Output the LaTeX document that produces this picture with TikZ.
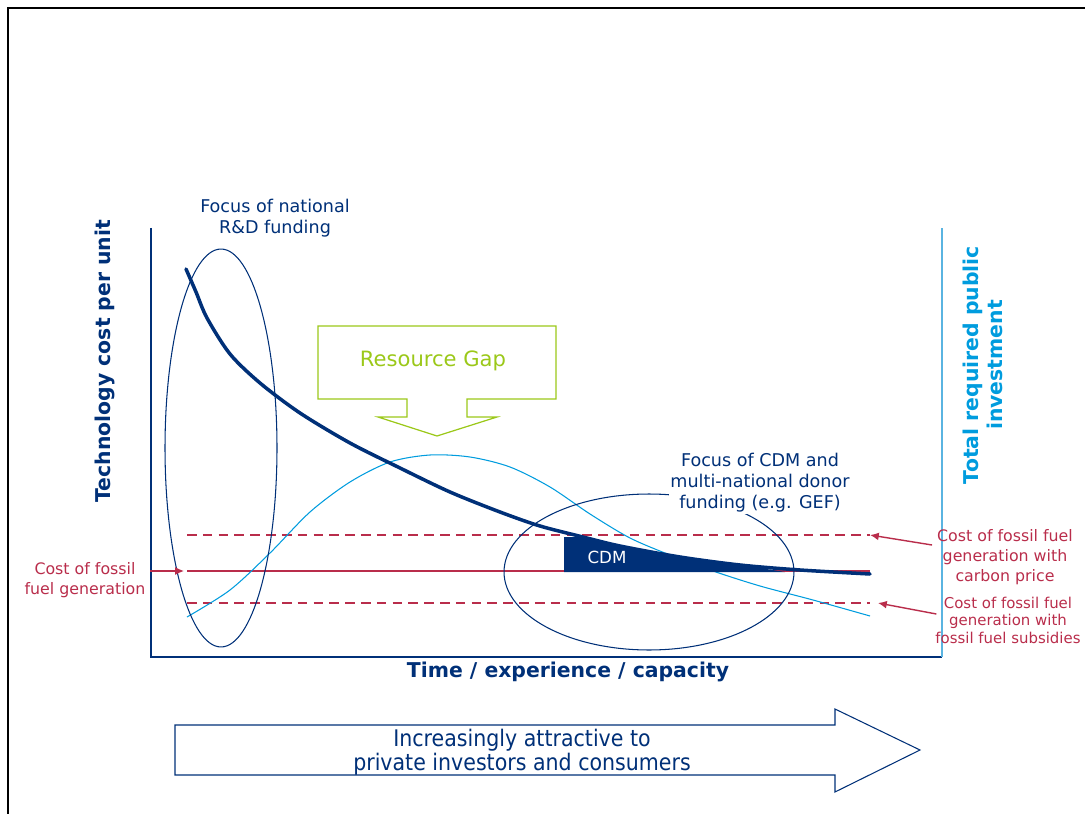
\documentclass[tikz,border=0pt]{standalone}
\usepackage{fontspec}
\setmainfont{DejaVu Sans}
\newfontfamily\narrowfont[FakeStretch=0.9]{DejaVu Sans}
\usepackage{tikz}
\usetikzlibrary{arrows.meta, positioning, calc}
\definecolor{navy}{RGB}{0,48,120}
\definecolor{skyblue}{RGB}{0,156,222}
\definecolor{axisblue}{RGB}{90,180,225}
\definecolor{crimson}{RGB}{185,45,75}
\definecolor{lime}{RGB}{155,200,25}
\tikzset{%
	axisline/.style={navy, line width=0.7pt},
	raxis/.style={axisblue, line width=0.9pt},
	axislbl/.style={text=navy, font=\bfseries\fontsize{11.6}{14}\selectfont, align=center, inner sep=1pt},
	lbl/.style={text=navy, font=\fontsize{10}{11.9}\selectfont, align=center, inner sep=1pt},
	redlbl/.style={text=crimson, font=\fontsize{9}{11.3}\selectfont, align=center, inner sep=1pt},
	fossil/.style={crimson, line width=0.6pt},
	fossildash/.style={crimson, line width=1.1pt, dash pattern=on 5.5pt off 3.5pt},
	redarrow/.style={crimson, line width=0.8pt, -{Latex[length=5pt, width=4.5pt]}},
	costcurve/.style={navy, line width=2pt, line cap=round},
	invcurve/.style={skyblue, line width=0.6pt},
	focus/.style={navy, line width=0.6pt},
	gapshape/.style={lime, line width=0.7pt},
	gaplbl/.style={text=lime, font=\fontsize{12}{14}\selectfont},
	cdmlbl/.style={text=white, font=\fontsize{9.5}{11}\selectfont},
	bigarrow/.style={draw=navy, line width=0.6pt, fill=white},
	arrowlbl/.style={text=navy, font=\narrowfont\fontsize{13}{13.6}\selectfont, align=center}
}
\begin{document}
\begin{tikzpicture}[x=0.02cm, y=-0.02cm]
	\useasboundingbox (0,0) rectangle (1085,814);
	\draw[line width=1.3pt] (8,814) -- (8,8) -- (1085,8);

	% axes
	\coordinate (o) at (151,657);
	\coordinate (ytop) at (151,228);
	\coordinate (xend) at (942,657);
	\coordinate (rtop) at (942,228);
	\draw[axisline] (ytop) -- (o) -- (xend);
	\draw[raxis] (xend) -- (rtop);
	\node[axislbl, rotate=90] (ylab) at (105,361) {Technology cost per unit};
	\node[axislbl, text=skyblue, rotate=90] (rlab) at (983,365) {Total required public\\investment};
	\node[axislbl] (xlab) at (568,672) {Time / experience / capacity};

	% fossil fuel levels
	\coordinate (fl) at (187,571);
	\coordinate (fr) at (870,571);
	\coordinate (cl) at (187,535);
	\coordinate (cr) at (870,535);
	\coordinate (sl) at (187,603);
	\coordinate (sr) at (870,603);
	\draw[fossil] (fl) -- (fr);
	\draw[fossildash] (cl) -- (cr);
	\draw[fossildash] (sl) -- (sr);

	\draw[invcurve] plot[smooth] coordinates {(187,617) (230,590) (270,553) (310,512) (350,482) (390,462) (430,455) (470,457) (510,467) (550,487) (590,514) (630,538) (670,555) (713,571) (760,586) (813,600) (870,616)};

	\fill[navy] (564,537) -- plot[smooth] coordinates {(583,537) (620,546) (680,557) (740,565) (785,572)} -- (564,572) -- cycle;
	\node[cdmlbl] (cdm) at (607,557) {CDM};

	\draw[costcurve] plot[smooth] coordinates {(186,269) (196,292) (207,318) (230,354) (260,383) (300,413) (350,443) (400,468) (450,492) (500,512) (540,526) (583,537) (620,546) (680,557) (740,565) (800,570) (870,574)};

	% funding focus
	\draw[focus] (221,448) ellipse [x radius=1.12cm, y radius=3.98cm];
	\draw[focus] (649,572) ellipse [x radius=2.9cm, y radius=1.56cm];
	\node[lbl] (rdlbl) at (275,218) {Focus of national\\R\&D funding};
	\node[lbl, fill=white] (cdmfocus) at (760,483) {Focus of CDM and\\multi-national donor\\funding (e.g. GEF)};

	\draw[gapshape] (318,326) -- (556,326) -- (556,399) -- (467,399) -- (467,417) -- (497,417) -- (437,436) -- (378,417) -- (407,417) -- (407,399) -- (318,399) -- cycle;
	\node[gaplbl] (gap) at (433,361) {Resource Gap};

	\node[redlbl] (fflbl) at (85,580) {Cost of fossil\\fuel generation};
	\node[redlbl] (cplbl) at (1005,557) {Cost of fossil fuel\\generation with\\carbon price};
	\node[redlbl, font=\fontsize{8.5}{10}\selectfont] (sublbl) at (1008,620) {Cost of fossil fuel\\generation with\\fossil fuel subsidies};
	\draw[redarrow] ($(fflbl.east)+(3,-9)$) -- ($(fl)+(-3,0)$);
	\draw[redarrow] ($(cplbl.west)+(-3,-12)$) -- (cr);
	\draw[redarrow] ($(sublbl.west)+(3,-6)$) -- ($(sr)+(8,0)$);

	\draw[bigarrow] (175,725) -- (835,725) -- (835,709) -- (920,750) -- (835,792) -- (835,775) -- (175,775) -- cycle;
	\node[arrowlbl] (attract) at (522,752) {Increasingly attractive to\\private investors and consumers};
\end{tikzpicture}
\end{document}
